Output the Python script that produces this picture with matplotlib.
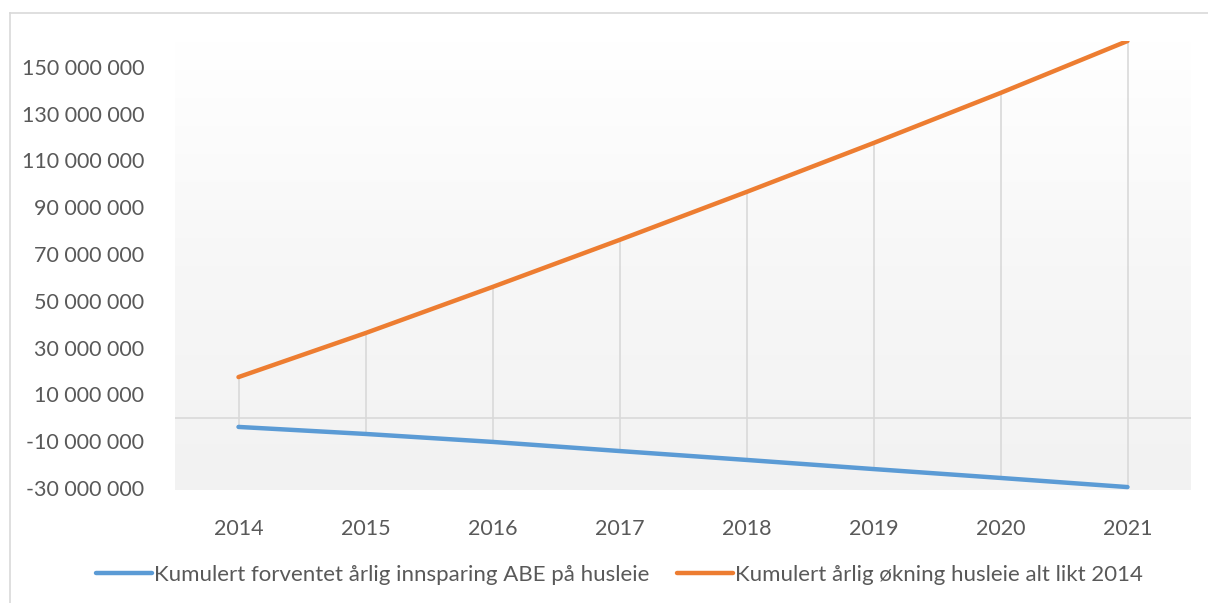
import numpy as np
import matplotlib
matplotlib.use("Agg")
import matplotlib.pyplot as plt
from matplotlib.colors import LinearSegmentedColormap
from matplotlib.ticker import FuncFormatter

plt.rcParams['font.family'] = ['Lato', 'DejaVu Sans']

years = [2014, 2015, 2016, 2017, 2018, 2019, 2020, 2021]
innsparing = [-3.9e6, -6.9e6, -10.3e6, -14.2e6, -18.0e6, -21.9e6, -25.7e6, -29.6e6]
okning = [17.4e6, 36.2e6, 55.9e6, 76.0e6, 96.5e6, 117.4e6, 138.8e6, 161.0e6]

label_blue = "Kumulert forventet årlig innsparing ABE på husleie"
label_orange = "Kumulert årlig økning husleie alt likt 2014"

txt = "#595959"
fig = plt.figure(figsize=(12.08, 6.03), dpi=100)
ax = fig.add_axes([175 / 1208, 113 / 603, 1016 / 1208, 449 / 603])

x = np.arange(len(years))

# bakgrunn i plotteområdet: hvit øverst, lys grå nederst
cmap = LinearSegmentedColormap.from_list("bg", ["#f2f2f2", "#f7f7f7", "#ffffff"])
grad = np.linspace(0, 1, 256).reshape(-1, 1)
ax.imshow(grad, cmap=cmap, aspect="auto", extent=[0, 1, 0, 1],
          transform=ax.transAxes, origin="lower", zorder=0)

# høy-lav linjer og nullinje
ax.vlines(x, innsparing, okning, color="#d9d9d9", lw=1.2, zorder=1)
ax.axhline(0, color="#d9d9d9", lw=1.2, zorder=1)

ax.plot(x, innsparing, color="#5B9BD5", lw=3.2, solid_capstyle="round", label=label_blue, zorder=3)
ax.plot(x, okning, color="#ED7D31", lw=3.2, solid_capstyle="round", label=label_orange, zorder=3)

ax.set_xlim(-0.5, len(years) - 0.5)
ax.set_ylim(-30.85e6, 161.0e6)
ax.set_xticks(x)
ax.set_xticklabels([str(y) for y in years])
ax.set_yticks(np.arange(-30e6, 151e6, 20e6))
ax.yaxis.set_major_formatter(FuncFormatter(lambda v, p: f"{v:,.0f}".replace(",", " ")))
ax.tick_params(length=0, labelsize=15.5, colors=txt)
ax.tick_params(axis="y", pad=22)
ax.tick_params(axis="x", pad=21)
for s in ax.spines.values():
    s.set_visible(False)

leg = fig.legend(loc="center", bbox_to_anchor=(0.513, 1 - 575 / 603), ncol=2, frameon=False,
                 fontsize=16, handlelength=2.5, handletextpad=0.1, columnspacing=1.25)
for t in leg.get_texts():
    t.set_color(txt)

# rammen rundt diagrammet (topp og venstre synlig)
fig.add_artist(plt.Line2D([10 / 1208, 10 / 1208], [0, 1 - 13 / 603], color="#d9d9d9", lw=1.2))
fig.add_artist(plt.Line2D([10 / 1208, 1], [1 - 13 / 603, 1 - 13 / 603], color="#d9d9d9", lw=1.2))

fig.savefig("out.png", dpi=100)
